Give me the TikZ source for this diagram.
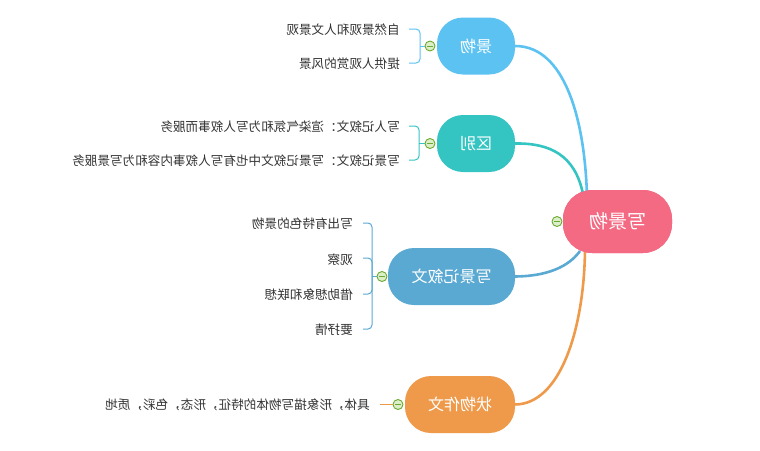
\documentclass[tikz,border=0pt]{standalone}
\usepackage{fontspec}
\setmainfont{Noto Sans CJK SC}
\usetikzlibrary{calc}
\definecolor{cRoot}{HTML}{F46A83}
\definecolor{cA}{HTML}{5BC2F2}
\definecolor{cB}{HTML}{34C5C3}
\definecolor{cC}{HTML}{5AA9D2}
\definecolor{cD}{HTML}{EE9A4A}
\definecolor{cTxt}{HTML}{333333}
\definecolor{cMk}{HTML}{6AAA32}
\definecolor{cMkF}{HTML}{DDEFC8}
\newcommand\mir[1]{\scalebox{-1}[1]{#1}}
\begin{document}
\begin{tikzpicture}[x=1pt,y=-1pt,
  rootbox/.style={fill=cRoot,rounded corners=29pt,minimum width=109pt,minimum height=63pt,text=white,font=\fontsize{19pt}{22pt}\selectfont,inner sep=0pt},
  branchbox/.style={rounded corners=26pt,minimum height=57pt,text=white,font=\fontsize{16pt}{19pt}\selectfont,inner sep=0pt},
  leaf/.style={anchor=east,text=cTxt,font=\fontsize{12.6pt}{15pt}\selectfont,inner sep=0pt},
  marker/.style={circle,draw=cMk,fill=cMkF,line width=0.9pt,minimum size=10pt,inner sep=0pt,
    path picture={\draw[cMk,line width=1pt] ([xshift=-3pt]path picture bounding box.center) -- ([xshift=3pt]path picture bounding box.center);}},
  link/.style={line width=2.6pt},
  brk/.style={line width=1pt,rounded corners=4pt}
]
\useasboundingbox (0,0) rectangle (760,450);

% nodes
\node[rootbox] (root) at (617.5,221.5) {\mir{写景物}};
\node[branchbox,fill=cA,minimum width=78pt] (b1) at (476,46) {\mir{景物}};
\node[branchbox,fill=cB,minimum width=78pt] (b2) at (476,143.5) {\mir{区别}};
\node[branchbox,fill=cC,minimum width=127pt] (b3) at (451.5,276.5) {\mir{写景记叙文}};
\node[branchbox,fill=cD,minimum width=110pt] (b4) at (460,404.5) {\mir{状物作文}};

% connectors root -> branches
\coordinate (r1) at (587,197);
\coordinate (r2) at (583,194);
\coordinate (r3) at (580,251);
\coordinate (r4) at (585,250);
\draw[link,cA] (b1.east) .. controls (565,46) and (585,120) .. (r1);
\draw[link,cB] (b2.east) .. controls (550,143) and (575,155) .. (r2);
\draw[link,cC] (b3.east) .. controls (555,276) and (572,262) .. (r3);
\draw[link,cD] (b4.east) .. controls (560,404) and (584,330) .. (r4);
\node[rootbox] at (617.5,221.5) {\mir{写景物}};

% markers
\node[marker] (m0) at (557,221.5) {};
\node[marker] (m1) at (430,46) {};
\node[marker] (m2) at (430,143.5) {};
\node[marker] (m3) at (382,276.5) {};
\node[marker] (m4) at (398,404.5) {};

% leaves
\node[leaf] (l11) at (400,30) {\mir{自然景观和人文景观}};
\node[leaf] (l12) at (400,64) {\mir{提供人观赏的风景}};
\node[leaf] (l21) at (400,127) {\mir{写人记叙文：渲染气氛和为写人叙事而服务}};
\node[leaf] (l22) at (400,161) {\mir{写景记叙文：写景记叙文中也有写人叙事内容和为写景服务}};
\node[leaf] (l31) at (353,224) {\mir{写出有特色的景物}};
\node[leaf] (l32) at (353,260) {\mir{观察}};
\node[leaf] (l33) at (353,295) {\mir{借助想象和联想}};
\node[leaf] (l34) at (353,330) {\mir{要抒情}};
\node[leaf] (l41) at (370,405) {\mir{具体，形象描写物体的特征，形态，色彩，质地}};

% brackets
\draw[brk,cA] (409,29) -- (420,29) -- (420,63) -- (409,63);
\draw[cA,line width=1pt] (420,46) -- (m1.west);
\draw[brk,cB] (409,126) -- (419,126) -- (419,160) -- (409,160);
\draw[cB,line width=1pt] (419,143.5) -- (m2.west);
\draw[brk,cC] (363,223) -- (372,223) -- (372,329) -- (363,329);
\draw[brk,cC] (363,258) -- (372,258) -- (372,276.5);
\draw[brk,cC] (363,294) -- (372,294) -- (372,276.5);
\draw[cC,line width=1pt] (372,276.5) -- (m3.west);
\draw[cD,line width=1pt] (m4.west) -- (380,404.5);
\end{tikzpicture}
\end{document}
